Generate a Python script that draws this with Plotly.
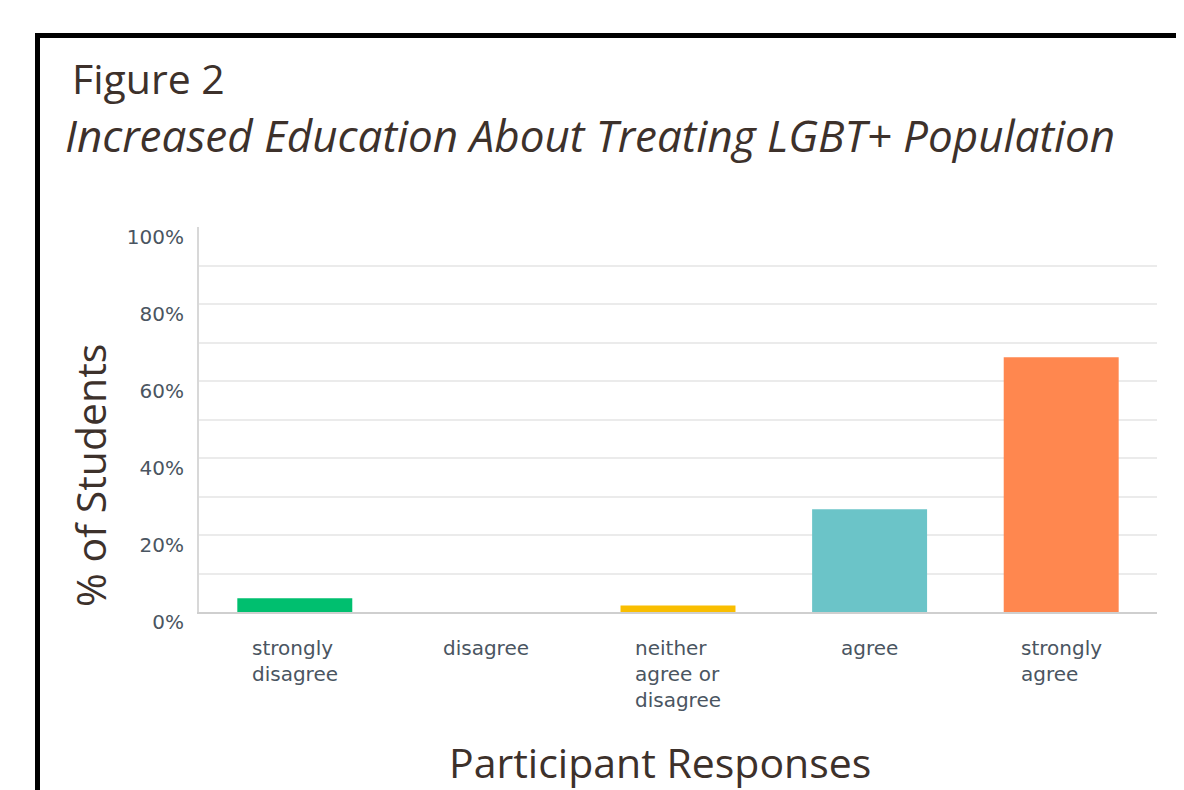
import plotly.graph_objects as go

categories = ["strongly disagree", "disagree", "neither agree or disagree", "agree", "strongly agree"]
tick_labels = ["strongly<br>disagree", "disagree", "neither<br>agree or<br>disagree", "agree", "strongly<br>agree"]
values = [3.6, 0.0, 1.7, 26.7, 66.2]
colors = ["#00BF6F", "#F05B24", "#F9BE00", "#6BC4C8", "#FF874F"]
y_ticks = [0, 20, 40, 60, 80, 100]
y_ticktext = ["0%", "20%", "40%", "60%", "80%", "100%"]
minor_grid = [10, 20, 30, 40, 50, 60, 70, 80, 90]

title_text = "Figure 2"
subtitle_text = "Increased Education About Treating LGBT+ Population"
y_title = "% of Students"
x_title = "Participant Responses"

OFF = 8  # page body margin
W, H = 1184, 790
L, R, T, B = 199 - OFF, 27 + OFF, 227 - OFF, 178 + OFF
PW, PH = W - L - R, H - T - B


def px(x):
    return (x - OFF - L) / PW


def py(y):
    return (H - B + OFF - y) / PH


brown = "#3D312B"
tick_col = "#4A5561"

fig = go.Figure(
    go.Bar(
        x=categories,
        y=values,
        marker=dict(color=colors, line=dict(width=0)),
        hoverinfo="x+y",
    )
)

annotations = [
    dict(text=title_text, x=px(70), y=py(78), xref="paper", yref="paper",
         xanchor="left", yanchor="middle", showarrow=False,
         font=dict(family="Open Sans", size=41, color=brown)),
    dict(text="<i>" + subtitle_text + "</i>", x=px(63), y=py(135), xref="paper", yref="paper",
         xanchor="left", yanchor="middle", showarrow=False,
         font=dict(family="Open Sans", size=44, color=brown)),
    dict(text=y_title, x=px(90), y=py(476), xref="paper", yref="paper",
         xanchor="center", yanchor="middle", textangle=-90, showarrow=False,
         font=dict(family="Open Sans", size=41, color=brown)),
    dict(text=x_title, x=px(660), y=py(762), xref="paper", yref="paper",
         xanchor="center", yanchor="middle", showarrow=False,
         font=dict(family="Open Sans", size=41, color=brown)),
]
for cat, lab in zip(categories, tick_labels):
    annotations.append(dict(
        text=lab, x=cat, y=py(634), xref="x", yref="paper",
        xanchor="center", yanchor="top", align="left", showarrow=False,
        font=dict(family="DejaVu Sans", size=20, color=tick_col),
    ))

fig.update_layout(
    width=W, height=H,
    margin=dict(l=L, r=R, t=T, b=B, autoexpand=False),
    paper_bgcolor="white", plot_bgcolor="white",
    bargap=0.4,
    showlegend=False,
    annotations=annotations,
    shapes=[dict(type="rect", xref="paper", yref="paper",
                 x0=px(37.5), x1=px(1200), y0=py(820), y1=py(35.5),
                 line=dict(color="black", width=5), fillcolor="rgba(0,0,0,0)", layer="above")],
    xaxis=dict(
        showticklabels=False, showgrid=False, zeroline=False,
        showline=True, linecolor="#CFCFCF", linewidth=2, ticks="",
    ),
    yaxis=dict(
        range=[0, 100], tickmode="array", tickvals=y_ticks, ticktext=y_ticktext,
        showgrid=False, zeroline=False,
        showline=True, linecolor="#D8D8D8", linewidth=2, ticks="",
        ticklabelstandoff=9, ticklabelshift=10,
        tickfont=dict(family="DejaVu Sans", size=20, color=tick_col),
        minor=dict(tickmode="array", tickvals=minor_grid, showgrid=True,
                   gridcolor="#EBEBEB", gridwidth=2, ticks=""),
    ),
)

fig.write_html("out.html")
